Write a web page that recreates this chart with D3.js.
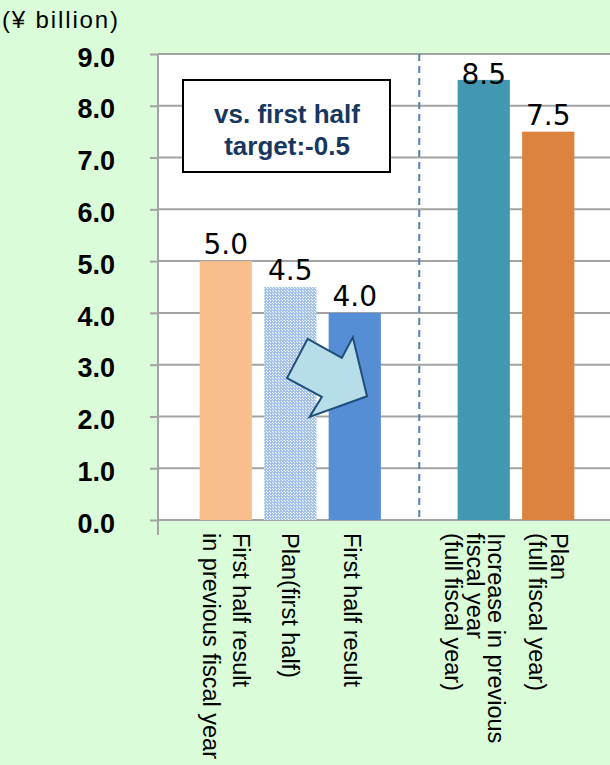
<!DOCTYPE html>
<html>
<head>
<meta charset="utf-8">
<script src="https://cdn.jsdelivr.net/npm/d3@7"></script>
<style>
  html, body { margin: 0; padding: 0; background: #dafcd8; }
  svg { display: block; }
</style>
</head>
<body>
<svg id="chart" width="610" height="765"></svg>
<script>
// ---------- DATA ----------
const categories = [
  ["First half result", "in previous fiscal year"],
  ["Plan(first half)"],
  ["First half result"],
  ["Increase in previous", "fiscal year", "(full fiscal year)"],
  ["Plan", "(full fiscal year)"]
];
const values = [5.0, 4.5, 4.0, 8.5, 7.5];
const valueLabels = ["5.0", "4.5", "4.0", "8.5", "7.5"];
const yTicks = [0, 1, 2, 3, 4, 5, 6, 7, 8, 9];
const yTickLabels = ["0.0", "1.0", "2.0", "3.0", "4.0", "5.0", "6.0", "7.0", "8.0", "9.0"];
const unitLabel = "(¥ billion)";
const noteLines = ["vs. first half", "target:-0.5"];
// slot keys: a gap slot separates first-half from full-year groups
const slots = ["c0", "c1", "c2", "gap", "c3", "c4"];
const barSlots = ["c0", "c1", "c2", "c3", "c4"];
// arrow shape: [fraction between bar 2 and bar 3 centres, value]
const arrowShape = [[0.27, 3.50], [0.80, 3.13], [0.97, 3.53], [1.19, 2.39], [0.30, 1.99], [0.49, 2.38], [-0.05, 2.74]];

// ---------- STYLE ----------
const barColors = ["#f8bf8d", "url(#dots)", "#558ed5", "#4298b0", "#dc843f"];
const labelLineGap = [30, 21.5, 21.5, 21.5, 22];
const labelShift = [0, 0, -3, -9, 0];
const gridColor = "#a3a3a3";

const svg = d3.select("#chart");
const W = 610, H = 765;
svg.append("rect").attr("width", W).attr("height", H).attr("fill", "#dafcd8");

const defs = svg.append("defs");
const pat = defs.append("pattern").attr("id", "dots").attr("patternUnits", "userSpaceOnUse")
  .attr("width", 3).attr("height", 3);
pat.append("rect").attr("width", 3).attr("height", 3).attr("fill", "#a3c2ee");
pat.append("rect").attr("x", 0).attr("y", 0).attr("width", 1).attr("height", 1).attr("fill", "#ffffff");
pat.append("rect").attr("x", 2).attr("y", 2).attr("width", 1).attr("height", 1).attr("fill", "#ffffff");

const plotLeft = 158, plotRight = 610, plotTop = 54, plotBottom = 520;
const y = d3.scaleLinear().domain([0, 9]).range([plotBottom, plotTop]);
const x = d3.scaleBand().domain(slots).range([193.5, 580.5]).paddingInner(0.19).paddingOuter(0.095);

// plot area
svg.append("rect").attr("x", plotLeft).attr("y", plotTop)
  .attr("width", plotRight - plotLeft).attr("height", plotBottom - plotTop).attr("fill", "#ffffff");

// gridlines
svg.append("g").selectAll("line").data(yTicks).join("line")
  .attr("x1", plotLeft).attr("x2", plotRight)
  .attr("y1", d => y(d)).attr("y2", d => y(d))
  .attr("stroke", gridColor).attr("stroke-width", 2);

// separator dashed line
const gx = x("gap") + x.bandwidth() / 2;
svg.append("line").attr("x1", gx).attr("x2", gx).attr("y1", y(9)).attr("y2", y(0))
  .attr("stroke", "#4f81bd").attr("stroke-width", 2).attr("stroke-dasharray", "7,5");

// bars
svg.append("g").selectAll("rect").data(values).join("rect")
  .attr("x", (d, i) => x(barSlots[i]))
  .attr("width", x.bandwidth())
  .attr("y", d => y(d))
  .attr("height", d => y(0) - y(d))
  .attr("fill", (d, i) => barColors[i]);

// value labels
svg.append("g").selectAll("text").data(values).join("text")
  .attr("x", (d, i) => x(barSlots[i]) + x.bandwidth() / 2)
  .attr("y", d => Math.max(y(d) - 7, 84))
  .attr("text-anchor", "middle")
  .attr("font-family", "DejaVu Sans")
  .attr("font-size", 28)
  .attr("fill", "#000")
  .text((d, i) => valueLabels[i]);

// y axis
const yAxis = d3.axisLeft(y).tickValues(yTicks).tickFormat((d, i) => yTickLabels[i])
  .tickSize(8).tickPadding(35);
const ya = svg.append("g").attr("transform", `translate(${plotLeft},0)`).call(yAxis);
ya.select(".domain").remove();
ya.selectAll(".tick line").attr("stroke", gridColor).attr("stroke-width", 2);
ya.selectAll(".tick text").attr("font-family", "Liberation Sans, Arial, sans-serif")
  .attr("font-weight", "bold").attr("font-size", 27).attr("fill", "#000").attr("dy", "0.45em");
svg.append("line").attr("x1", plotLeft).attr("x2", plotLeft).attr("y1", y(9)).attr("y2", y(0) + 15)
  .attr("stroke", gridColor).attr("stroke-width", 2);

// category labels (rotated)
const cg = svg.append("g");
categories.forEach((lines, i) => {
  const cx = x(barSlots[i]) + x.bandwidth() / 2 + labelShift[i];
  const n = lines.length, s = labelLineGap[i];
  lines.forEach((ln, j) => {
    const bx = cx - 8 + ((n - 1) / 2 - j) * s;
    cg.append("text")
      .attr("transform", `translate(${bx},533) rotate(90)`)
      .attr("font-family", "Liberation Sans, Arial, sans-serif")
      .attr("font-size", 23.5)
      .attr("fill", "#000")
      .text(ln);
  });
});

// unit label
svg.append("text").attr("x", 2).attr("y", 28)
  .attr("font-family", "Liberation Sans, Arial, sans-serif").attr("font-size", 24)
  .attr("textLength", 116).attr("lengthAdjust", "spacing")
  .attr("fill", "#000").text(unitLabel);

// note box
svg.append("rect").attr("x", 183).attr("y", 80).attr("width", 207).attr("height", 92)
  .attr("fill", "#fff").attr("stroke", "#000").attr("stroke-width", 2);
svg.append("g").selectAll("text").data(noteLines).join("text")
  .attr("x", 287).attr("y", (d, i) => 123 + i * 32)
  .attr("text-anchor", "middle")
  .attr("font-family", "Liberation Sans, Arial, sans-serif")
  .attr("font-weight", "bold").attr("font-size", 26)
  .attr("fill", "#17375e")
  .text(d => d);

// arrow
const c1 = x("c1") + x.bandwidth() / 2, c2 = x("c2") + x.bandwidth() / 2;
const ap = arrowShape.map(([f, v]) => [c1 + f * (c2 - c1), y(v)]);
svg.append("path").attr("d", d3.line()(ap) + "Z")
  .attr("fill", "#b7dee8").attr("stroke", "#1f4e79").attr("stroke-width", 2)
  .attr("stroke-linejoin", "miter");
</script>
</body>
</html>
